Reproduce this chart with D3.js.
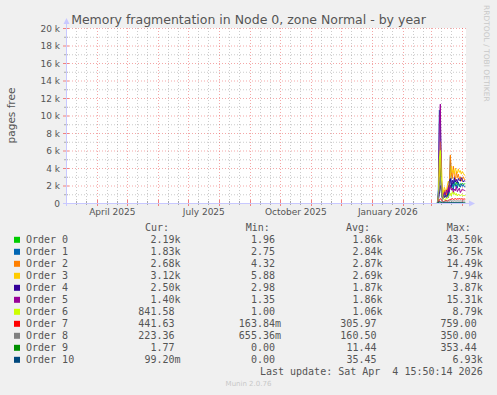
<!DOCTYPE html>
<html>
<head>
<meta charset="utf-8">
<script src="https://cdn.jsdelivr.net/npm/d3@7"></script>
<style>
  body { margin: 0; background: #F0F0F0; }
  svg { display: block; }
  text { white-space: pre; }
</style>
</head>
<body>
<svg id="chart" width="497" height="395"></svg>
<script>
// --- data ---
const seriesNames = ['Order 0', 'Order 1', 'Order 2', 'Order 3', 'Order 4', 'Order 5', 'Order 6', 'Order 7', 'Order 8', 'Order 9', 'Order 10'];
const seriesColors = ['#00CC00', '#0066B3', '#FF8000', '#FFCC00', '#330099', '#990099', '#CCFF00', '#FF0000', '#808080', '#008F00', '#00487D'];

const days = ['2026-03-07', '2026-03-08', '2026-03-09', '2026-03-10', '2026-03-11', '2026-03-12', '2026-03-13', '2026-03-14',
  '2026-03-15', '2026-03-16', '2026-03-17', '2026-03-18', '2026-03-19', '2026-03-20', '2026-03-21', '2026-03-22',
  '2026-03-23', '2026-03-24', '2026-03-25', '2026-03-26', '2026-03-27', '2026-03-28', '2026-03-29', '2026-03-30',
  '2026-03-31', '2026-04-01', '2026-04-02', '2026-04-03', '2026-04-04'];

const order0 = [0, 600, 3500, 4000, 1200, 600, 500, 700, 1000, 800, 1200, 900, 1500, 2000, 1700, 2300, 1900, 2200, 2000, 2400, 2100, 2300, 1900, 2200, 2100, 2250, 2150, 2180, 2190];
const order1 = [0, 1500, 10600, 9800, 2500, 900, 700, 1400, 800, 1200, 900, 600, 1300, 5300, 1800, 2200, 1500, 2600, 1900, 2100, 1700, 2400, 2000, 1800, 2200, 1900, 2100, 1850, 1830];
const order2 = [0, 800, 3000, 6000, 2500, 800, 1000, 1500, 1200, 900, 1400, 2000, 1800, 5500, 3500, 2800, 4200, 3100, 2600, 3600, 2900, 3300, 2700, 3000, 2500, 2800, 3000, 2700, 2680];
const order3 = [0, 500, 2000, 7000, 5000, 1500, 1200, 1800, 1500, 1300, 2000, 2500, 2200, 3000, 4200, 3500, 3800, 3300, 4000, 3600, 3400, 3900, 3500, 3700, 3300, 3600, 3400, 3200, 3120];
const order4 = [0, 300, 1000, 2000, 1500, 600, 500, 700, 800, 600, 900, 1200, 2500, 2800, 1900, 2600, 2200, 2900, 2400, 2700, 2300, 2800, 2600, 2500, 2900, 2700, 2400, 2550, 2500];
const order5 = [0, 200, 9000, 11300, 3000, 800, 600, 1200, 900, 1500, 1100, 1800, 1300, 2000, 1500, 1700, 1200, 1600, 1400, 1900, 1300, 1500, 1700, 1200, 1400, 1600, 1500, 1450, 1400];
const order6 = [0, 400, 5000, 6000, 3000, 1000, 500, 400, 300, 600, 500, 700, 900, 1100, 800, 1300, 1000, 1200, 900, 1100, 800, 1000, 900, 850, 950, 880, 860, 850, 842];
const order7 = [0, 100, 300, 500, 400, 200, 150, 200, 250, 300, 200, 300, 350, 400, 450, 500, 400, 450, 500, 420, 480, 460, 500, 450, 480, 470, 440, 460, 442];
const order8 = [0, 500, 2000, 3000, 1500, 300, 100, 150, 200, 180, 250, 220, 200, 260, 230, 240, 210, 250, 230, 220, 240, 230, 225, 235, 220, 230, 225, 222, 223];
const order9 = [0, 5, 20, 30, 10, 5, 8, 12, 10, 15, 12, 10, 14, 11, 9, 13, 10, 12, 11, 9, 10, 12, 11, 10, 9, 8, 5, 3, 1.77];
const order10 = [0, 10, 200, 150, 50, 20, 30, 40, 35, 30, 45, 40, 50, 35, 40, 30, 45, 40, 35, 38, 42, 36, 40, 35, 30, 20, 10, 2, 0.0992];
const seriesValues = [order0, order1, order2, order3, order4, order5, order6, order7, order8, order9, order10];

const curText = ['2.19k', '1.83k', '2.68k', '3.12k', '2.50k', '1.40k', '841.58 ', '441.63 ', '223.36 ', '1.77 ', '99.20m'];
const minText = ['1.96 ', '2.75 ', '4.32 ', '5.88 ', '2.98 ', '1.35 ', '1.00 ', '163.84m', '655.36m', '0.00 ', '0.00 '];
const avgText = ['1.86k', '2.84k', '2.87k', '2.69k', '1.87k', '1.86k', '1.06k', '305.97 ', '160.50 ', '11.44 ', '35.45 '];
const maxText = ['43.50k', '36.75k', '14.49k', '7.94k', '3.87k', '15.31k', '8.79k', '759.00 ', '350.00 ', '353.44 ', '6.93k'];

const yTicks = [0, 2000, 4000, 6000, 8000, 10000, 12000, 14000, 16000, 18000, 20000];
const yTickLabels = ['0', '2 k', '4 k', '6 k', '8 k', '10 k', '12 k', '14 k', '16 k', '18 k', '20 k'];

const endTime = new Date('2026-04-04T15:50:14');
const startTime = d3.timeDay.offset(endTime, -400);

// --- layout ---
const plot = { left: 66, right: 466, top: 28, bottom: 203 };
const svg = d3.select('#chart');
const fontColor = '#555';

const x = d3.scaleTime().domain([startTime, endTime]).range([plot.left, plot.right]);
const y = d3.scaleLinear().domain([0, 20000]).range([plot.bottom, plot.top]);

// canvas
svg.append('rect')
  .attr('x', plot.left).attr('y', plot.top)
  .attr('width', plot.right - plot.left).attr('height', plot.bottom - plot.top)
  .attr('fill', '#fff');

const gridMinor = 'rgba(140,140,140,0.45)';
const gridMajor = 'rgba(230,60,60,0.45)';

// horizontal grid
const yMinor = d3.range(1000, 20001, 1000).filter(v => v % 2000 !== 0);
svg.append('g').selectAll('line').data(yMinor).join('line')
  .attr('x1', plot.left).attr('x2', plot.right)
  .attr('y1', d => y(d) + 0.5).attr('y2', d => y(d) + 0.5)
  .attr('stroke', gridMinor).attr('stroke-dasharray', '1,2');
svg.append('g').selectAll('line').data(yTicks.slice(1)).join('line')
  .attr('x1', plot.left).attr('x2', plot.right)
  .attr('y1', d => y(d) + 0.5).attr('y2', d => y(d) + 0.5)
  .attr('stroke', gridMajor).attr('stroke-dasharray', '1,2');

// vertical grid
const monthStarts = d3.timeMonth.range(startTime, endTime);
const minorDays = d3.timeDay.range(startTime, endTime).filter(d => d.getDate() === 11 || d.getDate() === 21);
svg.append('g').selectAll('line').data(minorDays).join('line')
  .attr('x1', d => Math.round(x(d)) + 0.5).attr('x2', d => Math.round(x(d)) + 0.5)
  .attr('y1', plot.top).attr('y2', plot.bottom)
  .attr('stroke', gridMinor).attr('stroke-dasharray', '1,2');
svg.append('g').selectAll('line').data(monthStarts).join('line')
  .attr('x1', d => Math.round(x(d)) + 0.5).attr('x2', d => Math.round(x(d)) + 0.5)
  .attr('y1', plot.top).attr('y2', plot.bottom)
  .attr('stroke', gridMajor).attr('stroke-dasharray', '1,2');

// small ticks on the axes
svg.append('g').selectAll('line').data(minorDays).join('line')
  .attr('x1', d => Math.round(x(d)) + 0.5).attr('x2', d => Math.round(x(d)) + 0.5)
  .attr('y1', plot.bottom - 2).attr('y2', plot.bottom + 2)
  .attr('stroke', '#aaa');
svg.append('g').selectAll('line').data(monthStarts).join('line')
  .attr('x1', d => Math.round(x(d)) + 0.5).attr('x2', d => Math.round(x(d)) + 0.5)
  .attr('y1', plot.bottom - 3).attr('y2', plot.bottom + 3)
  .attr('stroke', '#f08080');
svg.append('g').selectAll('line').data(yMinor).join('line')
  .attr('x1', plot.left - 2).attr('x2', plot.left + 2)
  .attr('y1', d => y(d) + 0.5).attr('y2', d => y(d) + 0.5)
  .attr('stroke', '#aaa');
svg.append('g').selectAll('line').data(yTicks.slice(1)).join('line')
  .attr('x1', plot.left - 3).attr('x2', plot.left + 3)
  .attr('y1', d => y(d) + 0.5).attr('y2', d => y(d) + 0.5)
  .attr('stroke', '#f08080');

// series lines
const line = d3.line()
  .x((d, i) => x(new Date(days[i] + 'T00:00:00')))
  .y(d => y(d));
seriesValues.forEach((vals, k) => {
  svg.append('path')
    .attr('d', line(vals))
    .attr('fill', 'none')
    .attr('stroke', seriesColors[k])
    .attr('stroke-width', 1);
});

// axes with arrows
const axisColor = '#C8C8FF';
svg.append('line')
  .attr('x1', plot.left + 0.5).attr('x2', plot.left + 0.5)
  .attr('y1', plot.bottom + 3).attr('y2', plot.top - 6)
  .attr('stroke', axisColor);
svg.append('line')
  .attr('x1', plot.left - 3).attr('x2', plot.right + 4)
  .attr('y1', plot.bottom + 0.5).attr('y2', plot.bottom + 0.5)
  .attr('stroke', axisColor);
svg.append('path')
  .attr('d', `M${plot.left - 2.5},${plot.top - 4} L${plot.left + 3.5},${plot.top - 4} L${plot.left + 0.5},${plot.top - 10} Z`)
  .attr('fill', axisColor);
svg.append('path')
  .attr('d', `M${plot.right + 3},${plot.bottom - 2.5} L${plot.right + 3},${plot.bottom + 3.5} L${plot.right + 9},${plot.bottom + 0.5} Z`)
  .attr('fill', axisColor);

// y tick labels
svg.append('g').selectAll('text').data(yTicks).join('text')
  .attr('x', plot.left - 6)
  .attr('y', d => y(d) + 3.5)
  .attr('text-anchor', 'end')
  .attr('font-family', 'DejaVu Sans')
  .attr('font-size', 9)
  .attr('fill', fontColor)
  .text((d, i) => yTickLabels[i]);

// x labels: every third month, centred in the month, only when fully inside the plot
const labelMonths = d3.timeMonth.every(3).range(startTime, endTime)
  .filter(d => x(d3.timeMonth.offset(d, 1)) <= plot.right);
svg.append('g').selectAll('text').data(labelMonths).join('text')
  .attr('x', d => (x(d) + x(d3.timeMonth.offset(d, 1))) / 2)
  .attr('y', 215)
  .attr('text-anchor', 'middle')
  .attr('font-family', 'DejaVu Sans')
  .attr('font-size', 9)
  .attr('fill', fontColor)
  .text(d => d3.timeFormat('%B %Y')(d));

// title
svg.append('text')
  .attr('x', 248.5).attr('y', 23.5)
  .attr('text-anchor', 'middle')
  .attr('font-family', 'DejaVu Sans')
  .attr('font-size', 12.5)
  .attr('fill', fontColor)
  .text('Memory fragmentation in Node 0, zone Normal - by year');

// vertical axis title
svg.append('text')
  .attr('transform', `translate(15,${(plot.top + plot.bottom) / 2}) rotate(-90)`)
  .attr('text-anchor', 'middle')
  .attr('font-family', 'DejaVu Sans')
  .attr('font-size', 10.5)
  .attr('fill', fontColor)
  .text('pages free');

// rrdtool watermark
svg.append('text')
  .attr('transform', 'translate(484,5) rotate(90)')
  .attr('font-family', 'DejaVu Sans')
  .attr('font-size', 7.5)
  .attr('fill', '#c8c8c8')
  .text('RRDTOOL / TOBI OETIKER');

// legend
const mono = 'DejaVu Sans Mono';
const colEnds = [180.5, 281, 382.5, 482.7];
const headers = ['Cur:', 'Min:', 'Avg:', 'Max:'];
const headerStarts = [145, 245.7, 346, 446.7];
headers.forEach((h, i) => {
  svg.append('text')
    .attr('x', headerStarts[i]).attr('y', 231)
    .attr('font-family', mono).attr('font-size', 10)
    .attr('fill', fontColor)
    .text(h);
});

const rowY = i => 243.3 + i * 12;
const columns = [curText, minText, avgText, maxText];
seriesNames.forEach((name, i) => {
  svg.append('rect')
    .attr('x', 14).attr('y', rowY(i) - 6.5)
    .attr('width', 6).attr('height', 6)
    .attr('fill', seriesColors[i]);
  svg.append('text')
    .attr('x', 26).attr('y', rowY(i))
    .attr('font-family', mono).attr('font-size', 10)
    .attr('fill', fontColor)
    .text(name);
  columns.forEach((col, c) => {
    svg.append('text')
      .attr('x', colEnds[c]).attr('y', rowY(i))
      .attr('text-anchor', 'end')
      .attr('font-family', mono).attr('font-size', 10)
      .attr('fill', fontColor)
      .text(col[i]);
  });
});

svg.append('text')
  .attr('x', 482.7).attr('y', 375)
  .attr('text-anchor', 'end')
  .attr('font-family', mono).attr('font-size', 10)
  .attr('fill', fontColor)
  .text('Last update: Sat Apr  4 15:50:14 2026');

svg.append('text')
  .attr('x', 248.5).attr('y', 386)
  .attr('text-anchor', 'middle')
  .attr('font-family', 'DejaVu Sans')
  .attr('font-size', 7)
  .attr('fill', '#c8c8c8')
  .text('Munin 2.0.76');
</script>
</body>
</html>
